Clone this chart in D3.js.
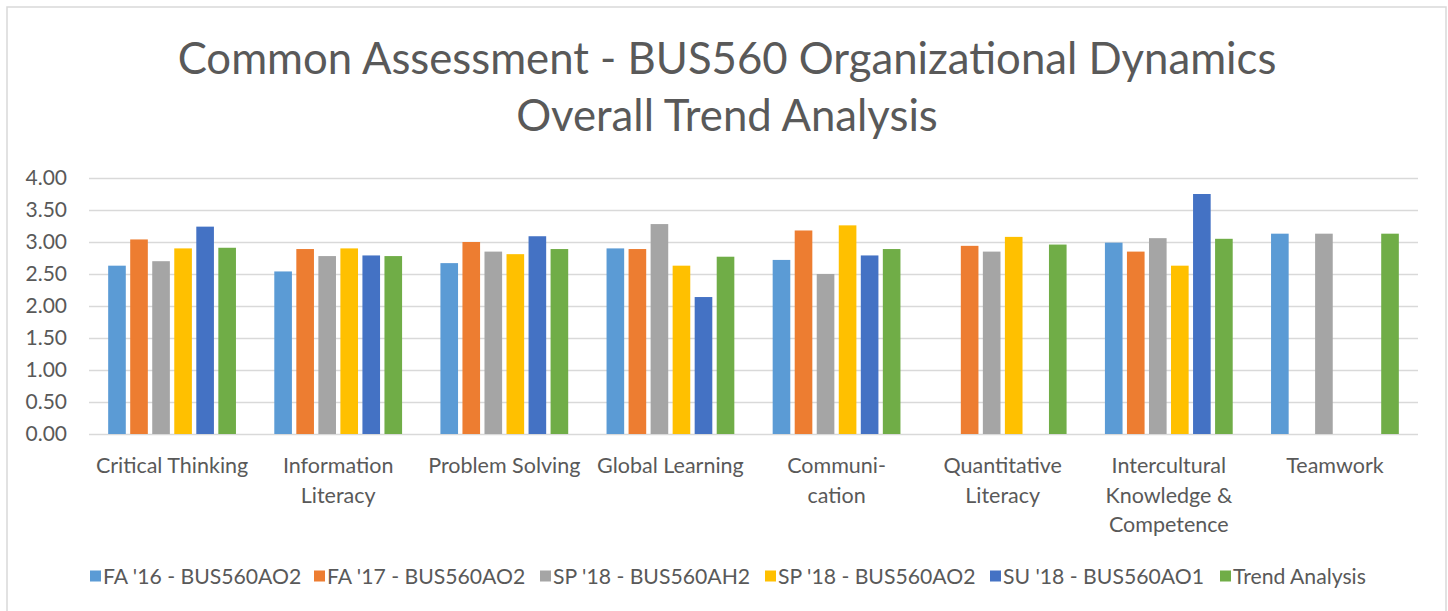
<!DOCTYPE html>
<html>
<head>
<meta charset="utf-8">
<script src="https://cdn.jsdelivr.net/npm/d3@7"></script>
<style>
  html, body { margin: 0; padding: 0; background: #fff; }
  svg { display: block; }
  text { font-family: "Lato", "Open Sans", sans-serif; fill: #595959; }
</style>
</head>
<body>
<svg id="chart" width="1448" height="611"></svg>
<script>
// ---- data ----
const categories = ["Critical Thinking", "Information Literacy", "Problem Solving", "Global Learning",
  "Communication", "Quantitative Literacy", "Intercultural Knowledge & Competence", "Teamwork"];
const categoryLines = [["Critical Thinking"], ["Information", "Literacy"], ["Problem Solving"], ["Global Learning"],
  ["Communi-", "cation"], ["Quantitative", "Literacy"], ["Intercultural", "Knowledge &", "Competence"], ["Teamwork"]];
const seriesNames = ["FA '16 - BUS560AO2", "FA '17 - BUS560AO2", "SP '18 - BUS560AH2",
  "SP '18 - BUS560AO2", "SU '18 - BUS560AO1", "Trend Analysis"];
const fa16AO2 = [2.63, 2.54, 2.67, 2.90, 2.72, null, 2.99, 3.13];
const fa17AO2 = [3.04, 2.89, 3.00, 2.89, 3.18, 2.94, 2.85, null];
const sp18AH2 = [2.70, 2.78, 2.85, 3.28, 2.50, 2.85, 3.06, 3.13];
const sp18AO2 = [2.90, 2.90, 2.81, 2.63, 3.26, 3.08, 2.63, null];
const su18AO1 = [3.24, 2.79, 3.09, 2.14, 2.79, null, 3.75, null];
const trendAnalysis = [2.91, 2.78, 2.89, 2.77, 2.89, 2.96, 3.05, 3.13];
const yTicks = [0, 0.5, 1, 1.5, 2, 2.5, 3, 3.5, 4];
const titleLines = ["Common Assessment - BUS560 Organizational Dynamics", "Overall Trend Analysis"];

const seriesValues = [fa16AO2, fa17AO2, sp18AH2, sp18AO2, su18AO1, trendAnalysis];
const colors = ["#5B9BD5", "#ED7D31", "#A5A5A5", "#FFC000", "#4472C4", "#70AD47"];

// ---- layout ----
const plot = { left: 89, right: 1418, top: 178, bottom: 434 };
const svg = d3.select("#chart");

// chart border
svg.append("rect").attr("x", 7).attr("y", 7).attr("width", 1439).attr("height", 620)
  .attr("fill", "#fff").attr("stroke", "#d9d9d9").attr("stroke-width", 1.5);

// title
svg.append("g").selectAll("text").data(titleLines).join("text")
  .attr("x", 727).attr("y", (d, i) => 74 + i * 57)
  .attr("text-anchor", "middle").attr("font-size", 43.7).attr("font-weight", 400)
  .text(d => d);

const x0 = d3.scaleBand().domain(categories).range([plot.left, plot.right]).padding(0);
const x1 = d3.scaleBand().domain(seriesNames).range([0, x0.bandwidth()])
  .paddingInner(0.2).paddingOuter(0.87);
const y = d3.scaleLinear().domain([0, 4]).range([plot.bottom, plot.top]);

// gridlines + y labels
const yAxis = d3.axisLeft(y).tickValues(yTicks).tickFormat(d3.format(".2f"))
  .tickSize(-(plot.right - plot.left)).tickPadding(22);
const gy = svg.append("g").attr("transform", `translate(${plot.left},0)`).call(yAxis);
gy.select(".domain").remove();
gy.selectAll(".tick line").attr("stroke", "#d9d9d9").attr("stroke-width", 1.3);
gy.selectAll(".tick text").attr("font-size", 21).attr("fill", "#595959")
  .style("font-family", "Lato, 'Open Sans', sans-serif");

// bars
const rows = [];
categories.forEach((c, ci) => {
  seriesNames.forEach((s, si) => {
    const v = seriesValues[si][ci];
    if (v != null) rows.push({ c, s, v, color: colors[si] });
  });
});
svg.append("g").selectAll("rect").data(rows).join("rect")
  .attr("x", d => x0(d.c) + x1(d.s))
  .attr("y", d => y(d.v))
  .attr("width", x1.bandwidth())
  .attr("height", d => y(0) - y(d.v))
  .attr("fill", d => d.color);

// category labels
const gx = svg.append("g");
categories.forEach((c, ci) => {
  gx.append("text")
    .attr("x", x0(c) + x0.bandwidth() / 2)
    .attr("text-anchor", "middle").attr("font-size", 21.5)
    .selectAll("tspan").data(categoryLines[ci]).join("tspan")
    .attr("x", x0(c) + x0.bandwidth() / 2)
    .attr("y", (d, i) => 473 + i * 29.5)
    .text(d => d);
});

// legend
const legendX = [90, 314, 540, 765, 990, 1220];
const lg = svg.append("g");
seriesNames.forEach((s, i) => {
  lg.append("rect").attr("x", legendX[i]).attr("y", 570.5).attr("width", 11).attr("height", 11)
    .attr("fill", colors[i]);
  lg.append("text").attr("x", legendX[i] + 13).attr("y", 583.5).attr("font-size", 21.2).text(s);
});
</script>
</body>
</html>
